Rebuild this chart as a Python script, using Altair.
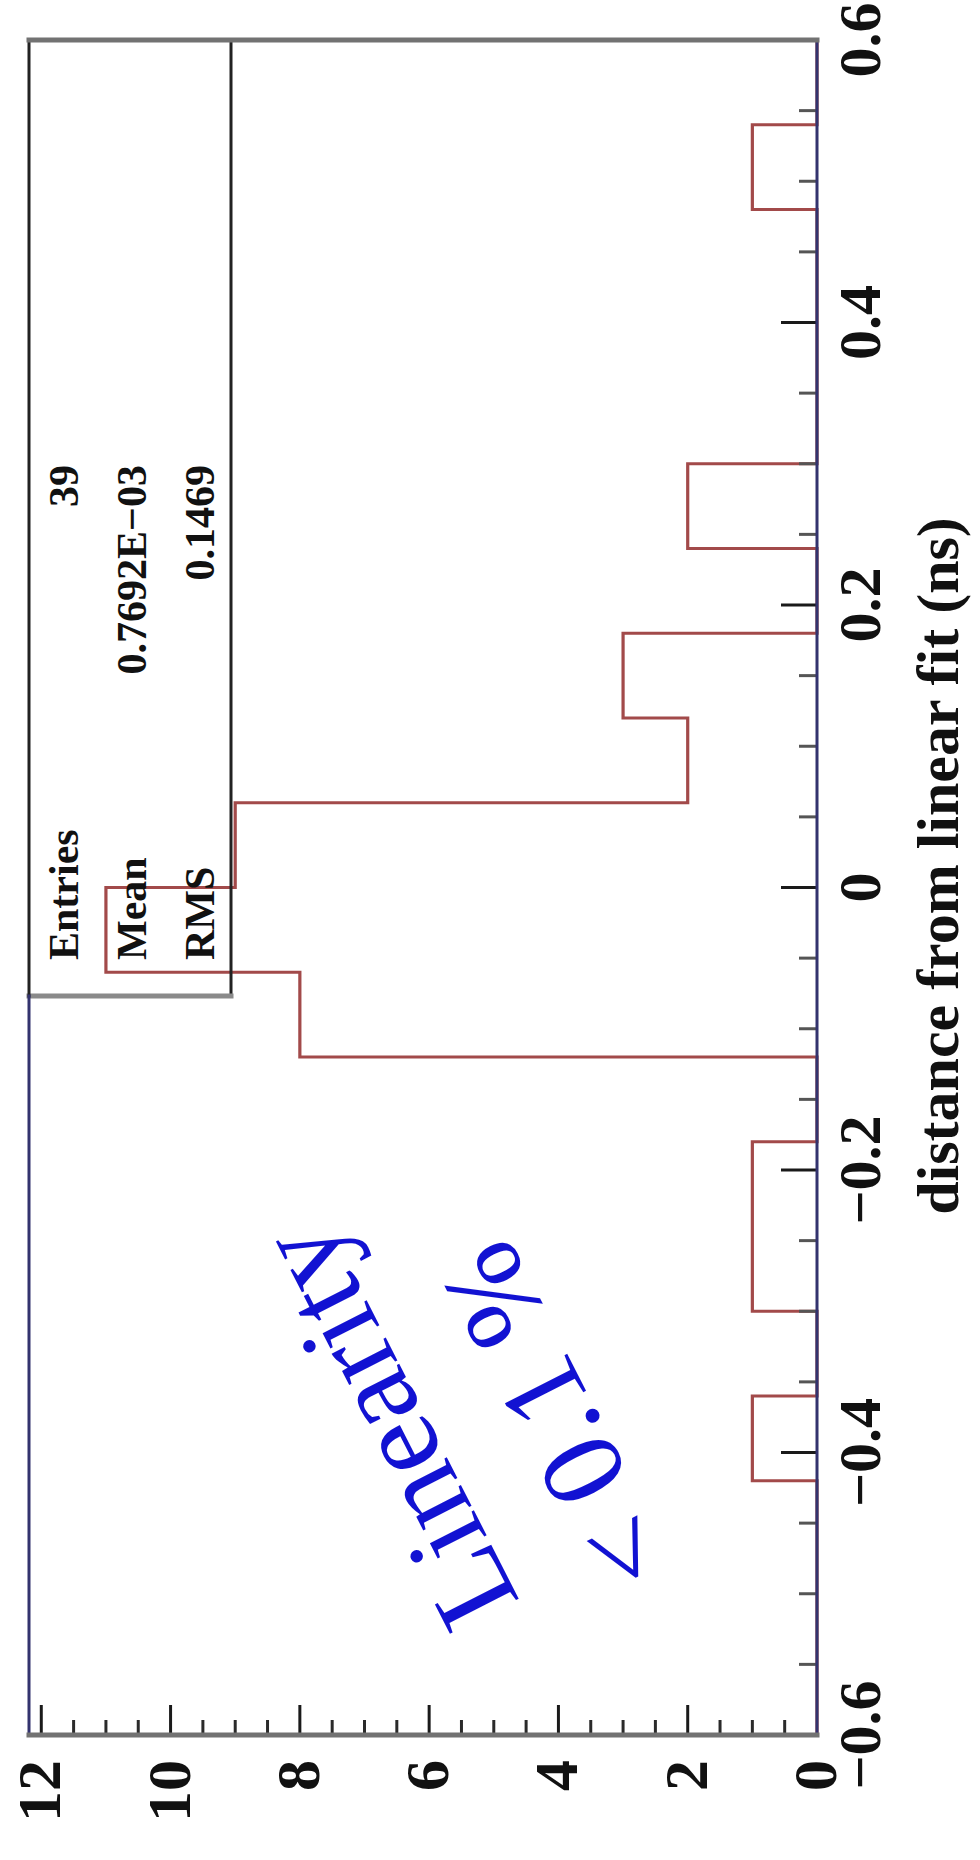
import altair as alt
import pandas as pd

# ---------------- data ----------------
bin_edges = [-0.60, -0.54, -0.48, -0.42, -0.36, -0.30, -0.24, -0.18, -0.12, -0.06,
             0.00, 0.06, 0.12, 0.18, 0.24, 0.30, 0.36, 0.42, 0.48, 0.54, 0.60]
bin_counts = [0, 0, 0, 1, 0, 1, 1, 0, 8, 11, 9, 2, 3, 0, 2, 0, 0, 0, 1, 0]

count_labels = [0, 2, 4, 6, 8, 10, 12]
count_major_ticks = [2, 4, 6, 8, 10, 12]
count_minor_ticks = [0.5, 1, 1.5, 2.5, 3, 3.5, 4.5, 5, 5.5, 6.5, 7, 7.5,
                     8.5, 9, 9.5, 10.5, 11, 11.5]
dist_labels = [-0.6, -0.4, -0.2, 0, 0.2, 0.4, 0.6]
dist_label_text = ["\u22120.6", "\u22120.4", "\u22120.2", "0", "0.2", "0.4", "0.6"]
dist_major_ticks = [-0.4, -0.2, 0, 0.2, 0.4]
dist_minor_ticks = [-0.55, -0.5, -0.45, -0.35, -0.3, -0.25, -0.15, -0.1, -0.05,
                    0.05, 0.1, 0.15, 0.25, 0.3, 0.35, 0.45, 0.5, 0.55]

stats_names = ["Entries", "Mean", "RMS"]
stats_values = ["39", "0.7692E\u221203", "0.1469"]
annotation_lines = ["Linearity", "< 0.1 %"]
x_title = "distance from linear fit (ns)"

# ---------------- layout ----------------
W, H = 788, 1695
FONT = "Liberation Serif"
NAVY = "#33336e"
GRAY = "#727272"
RED = "#a24a4a"
INK = "#111111"

xs = alt.Scale(domain=[0, 12.19], reverse=True, nice=False, zero=False)
ys = alt.Scale(domain=[-0.6, 0.6], nice=False, zero=False)

# histogram outline (step path built from the bins)
cnt, dist = [0.0], [bin_edges[0]]
for i, c in enumerate(bin_counts):
    cnt += [c, c]
    dist += [bin_edges[i], bin_edges[i + 1]]
cnt.append(0.0)
dist.append(bin_edges[-1])
hist_df = pd.DataFrame({"cnt": cnt, "dist": dist, "idx": list(range(len(cnt)))})

one = pd.DataFrame({"a": [0]})


def rule(x, y, x2=None, y2=None, color="#000", width=2.0, cap="square"):
    enc = {"x": alt.value(x), "y": alt.value(y)}
    if x2 is not None:
        enc["x2"] = alt.value(x2)
    if y2 is not None:
        enc["y2"] = alt.value(y2)
    return alt.Chart(one).mark_rule(color=color, strokeWidth=width,
                                    strokeCap=cap).encode(**enc)


def label(text, x, y, size, align, color=INK, weight="bold", angle=270,
          baseline="middle"):
    return alt.Chart(pd.DataFrame({"t": [text]})).mark_text(
        font=FONT, fontSize=size, fontWeight=weight, color=color, angle=angle,
        align=align, baseline=baseline).encode(
        text="t:N", x=alt.value(x), y=alt.value(y))


# stats box
box_layers = [
    rule(202, 0, y2=956, color="#222222", width=3),
    rule(0, 956, x2=202, color="#8a8a8a", width=5),
    rule(0, 0, y2=956, color="#222222", width=3),
]
stat_x = [36, 104, 172]
for i in range(3):
    box_layers.append(label(stats_names[i], stat_x[i], 920, 42, "left"))
    box_layers.append(label(stats_values[i], stat_x[i], 425, 42, "right"))

hist = alt.Chart(hist_df).mark_line(color=RED, strokeWidth=3.2,
                                    interpolate="linear", strokeJoin="miter").encode(
    x=alt.X("cnt:Q", scale=xs, axis=None),
    y=alt.Y("dist:Q", scale=ys, axis=None),
    order=alt.Order("idx:Q"),
)


def count_ticks(vals, length, color):
    return alt.Chart(pd.DataFrame({"cnt": vals})).mark_rule(
        color=color, strokeWidth=3).encode(
        x=alt.X("cnt:Q", scale=xs, axis=None),
        y=alt.value(H), y2=alt.value(H - length))


def dist_ticks(vals, length, color):
    return alt.Chart(pd.DataFrame({"dist": vals})).mark_rule(
        color=color, strokeWidth=3).encode(
        y=alt.Y("dist:Q", scale=ys, axis=None),
        x=alt.value(W), x2=alt.value(W - length))


tick_layers = [
    count_ticks(count_major_ticks, 30, "#1a1a1a"),
    count_ticks(count_minor_ticks, 15, "#2a2a2a"),
    dist_ticks(dist_major_ticks, 36, "#1a1a1a"),
    dist_ticks(dist_minor_ticks, 18, "#555555"),
]

# tick labels and axis title, placed through the scales
count_label_layer = alt.Chart(pd.DataFrame({"cnt": count_labels})).mark_text(
    font=FONT, fontSize=62, fontWeight="bold", color=INK, angle=270,
    align="right", baseline="middle").encode(
    x=alt.X("cnt:Q", scale=xs, axis=None),
    y=alt.value(H + 25),
    text=alt.Text("cnt:Q", format="d"),
)
dist_label_layer = alt.Chart(pd.DataFrame({"dist": dist_labels,
                                           "lab": dist_label_text})).mark_text(
    font=FONT, fontSize=60, fontWeight="bold", color=INK, angle=270,
    align="center", baseline="top").encode(
    y=alt.Y("dist:Q", scale=ys, axis=None),
    x=alt.value(W + 16),
    text="lab:N",
)
title_layer = label(x_title, W + 123, 826, 60, "center")

frame_layers = [
    rule(0, 956, y2=H, color=NAVY, width=3),
    rule(W, 0, y2=H, color=NAVY, width=3),
    rule(0, 0, x2=W, color=GRAY, width=5),
    rule(0, H, x2=W, color=GRAY, width=5),
]

blue = "#1212d2"
note_layers = [
    label(annotation_lines[0], 362, 1385, 118, "center", color=blue,
          weight="normal", angle=243),
    label(annotation_lines[1], 530, 1375, 118, "center", color=blue,
          weight="normal", angle=243),
]

chart = alt.layer(hist, *box_layers, *tick_layers, *frame_layers,
                  count_label_layer, dist_label_layer, title_layer,
                  *note_layers).properties(
    width=W, height=H,
    padding={"left": 29, "top": 40, "right": 163, "bottom": 125},
    autosize=alt.AutoSizeParams(type="none"),
    background="white",
).configure_view(strokeWidth=0)

chart.save("out.html", embed_options={"renderer": "svg", "actions": False})
